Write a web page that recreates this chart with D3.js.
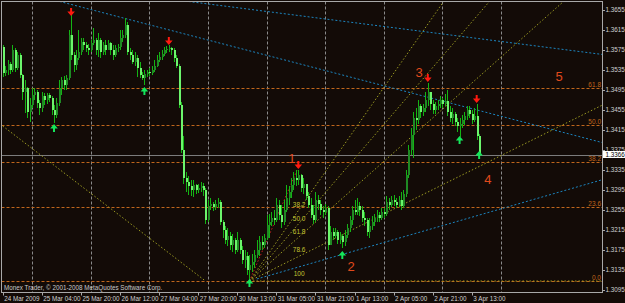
<!DOCTYPE html>
<html>
<head>
<meta charset="utf-8">
<script src="https://cdnjs.cloudflare.com/ajax/libs/d3/7.8.5/d3.min.js"></script>
<style>
html, body { margin: 0; padding: 0; background: #130b07; overflow: hidden; }
svg { display: block; }
text { font-family: "Liberation Sans", Arial, sans-serif; }
</style>
</head>
<body>
<div id="chart"></div>
<script>
// EURUSD-like H1 bars, prices in pips above 1.0000 (3529 -> 1.3529)
// open of each bar = close of the bar before
const firstOpen = 3581;
const closes = [3529,3535,3547,3535,3575,3539,3565,3525,3491,3499,
  3451,3465,3485,3491,3469,3459,3483,3475,3485,3479,
  3455,3445,3469,3499,3515,3505,3519,3605,3565,3545,
  3559,3571,3591,3585,3579,3575,3589,3595,3575,3595,
  3571,3585,3575,3589,3575,3565,3579,3581,3599,3605,
  3625,3571,3565,3551,3559,3539,3525,3519,3527,3531,
  3529,3535,3543,3555,3561,3567,3575,3577,3579,3575,
  3559,3543,3465,3375,3319,3311,3303,3295,3305,3295,
  3299,3303,3295,3235,3263,3267,3261,3267,3271,3231,
  3215,3195,3203,3185,3195,3175,3195,3175,3155,3163,
  3135,3145,3151,3165,3175,3191,3185,3199,3225,3231,
  3239,3235,3265,3245,3231,3255,3279,3291,3305,3319,
  3315,3325,3299,3307,3283,3265,3245,3235,3275,3267,
  3255,3251,3259,3185,3211,3203,3211,3195,3203,3191,
  3205,3219,3235,3255,3251,3263,3255,3239,3235,3211,
  3223,3231,3239,3245,3239,3251,3247,3271,3265,3275,
  3271,3265,3275,3263,3287,3325,3375,3405,3439,3435,
  3463,3451,3459,3475,3491,3467,3455,3463,3467,3475,
  3467,3473,3451,3439,3447,3431,3423,3427,3435,3443,
  3455,3447,3435,3443,3403,3366];
const highs = [3585,3543,3555,3551,3585,3579,3571,3569,3527,3515,
  3501,3479,3499,3499,3495,3475,3491,3489,3489,3489,
  3483,3465,3479,3515,3521,3523,3525,3615,3645,3571,
  3575,3615,3599,3599,3591,3587,3595,3619,3599,3609,
  3599,3591,3595,3595,3591,3585,3585,3587,3615,3615,
  3639,3631,3579,3575,3571,3565,3551,3531,3535,3535,
  3539,3543,3555,3565,3571,3575,3581,3583,3585,3581,
  3579,3565,3547,3471,3403,3331,3323,3315,3315,3307,
  3307,3311,3309,3299,3275,3279,3271,3275,3279,3275,
  3235,3223,3219,3211,3207,3199,3211,3199,3183,3175,
  3171,3165,3167,3175,3195,3203,3203,3207,3245,3247,
  3251,3255,3279,3275,3265,3275,3305,3303,3319,3331,
  3335,3335,3327,3319,3307,3291,3279,3265,3291,3285,
  3275,3263,3267,3263,3223,3219,3219,3215,3211,3207,
  3215,3227,3243,3263,3275,3279,3271,3263,3251,3239,
  3239,3243,3247,3255,3251,3259,3259,3283,3279,3283,
  3285,3279,3283,3291,3295,3335,3385,3419,3451,3459,
  3475,3467,3467,3491,3509,3487,3475,3471,3475,3483,
  3479,3487,3495,3463,3459,3451,3439,3439,3445,3451,
  3463,3463,3455,3459,3467,3407];
const lows = [3521,3523,3525,3527,3531,3531,3535,3519,3475,3449,
  3439,3431,3459,3475,3459,3445,3451,3465,3467,3471,
  3445,3429,3439,3463,3485,3495,3495,3515,3555,3531,
  3535,3555,3565,3575,3571,3565,3571,3585,3565,3561,
  3559,3565,3565,3575,3565,3555,3561,3571,3575,3591,
  3599,3565,3555,3547,3543,3521,3519,3515,3505,3521,
  3523,3525,3531,3541,3551,3555,3563,3569,3571,3565,
  3551,3539,3459,3369,3307,3291,3285,3283,3281,3287,
  3289,3291,3283,3227,3231,3255,3253,3255,3259,3225,
  3199,3187,3183,3175,3171,3167,3171,3167,3147,3139,
  3125,3113,3131,3139,3159,3163,3175,3179,3195,3199,
  3223,3225,3231,3235,3219,3225,3251,3265,3279,3295,
  3303,3305,3291,3287,3275,3259,3239,3227,3231,3255,
  3245,3239,3245,3175,3191,3195,3199,3187,3187,3179,
  3183,3199,3211,3225,3245,3245,3243,3231,3223,3203,
  3199,3215,3223,3231,3231,3235,3239,3243,3255,3261,
  3263,3259,3261,3255,3259,3281,3319,3365,3359,3415,
  3427,3439,3443,3451,3463,3455,3447,3447,3455,3459,
  3459,3463,3443,3431,3427,3423,3411,3401,3419,3425,
  3435,3439,3427,3431,3395,3361];

// fractal arrows: [bar, pips]
const fractalsHigh = [[28, 3651], [68, 3593], [121, 3345], [174, 3519], [194, 3477]];
const fractalsLow = [[21, 3419], [58, 3493], [101, 3109], [139, 3165], [187, 3395], [195, 3365]];

// axes
const priceTicks = [1.3655, 1.3615, 1.3575, 1.3535, 1.3495, 1.3455, 1.3415, 1.3375,
  1.3335, 1.3295, 1.3255, 1.3215, 1.3175, 1.3135, 1.3095];
const timeBars = [0, 16, 32, 48, 64, 80, 96, 112, 128, 144, 160, 176, 192];
const timeLabels = ["24 Mar 2009", "25 Mar 04:00", "25 Mar 20:00", "26 Mar 12:00", "27 Mar 04:00",
  "27 Mar 20:00", "30 Mar 13:00", "31 Mar 05:00", "31 Mar 21:00", "1 Apr 13:00",
  "2 Apr 05:00", "2 Apr 21:00", "3 Apr 13:00"];
const gridBars = [12, 36, 60, 84, 108, 132, 156, 180, 204];
const lastPrice = 1.3366;

// objects drawn on the chart, points are [bar, pips]
const blueLines = [
  [[81, 3669], [244, 3567]],
  [[22.6, 3673], [244.5, 3391]]
];
const blueRay = [[104, 3117], [245, 3315]];
const yellowSegment = [[0, 3423], [83, 3113]];
const fanFrom = [101, 3113], fanTo = [120.5, 3335];
const fanLevels = [38.2, 50, 61.8, 78.6, 100];
const fanLabels = ["38.2", "50.0", "61.8", "78.6", "100"];
const fiboLow = 3113, fiboHigh = 3736;
const fiboLevels = [0, 23.6, 38.2, 50, 61.8];
const fiboLabels = ["0.0", "23.6", "38.2", "50.0", "61.8"];
const waveLabels = ["1", "2", "3", "4", "5"];
const waveBars = [118.4, 142.6, 170.4, 198.6, 227.7];
const wavePips = [3359, 3143, 3531, 3317, 3523];

const width = 625, height = 303;
const plot = {left: 1.5, right: 602.5, top: 1.5, bottom: 292.5};

const px = v => 1 + v / 10000;
const x = d3.scaleLinear().domain([0, 192]).range([2.7, 471.8]);
const y = d3.scaleLinear().domain([1.3095, 1.3655]).range([290, 10]);

const svg = d3.select("#chart").append("svg")
    .attr("width", width)
    .attr("height", height);

svg.append("rect")
    .attr("width", width).attr("height", height)
    .attr("fill", "#130b07");

svg.append("clipPath").attr("id", "clip")
    .append("rect")
    .attr("x", plot.left).attr("y", plot.top)
    .attr("width", plot.right - plot.left)
    .attr("height", plot.bottom - plot.top);

const g = svg.append("g").attr("clip-path", "url(#clip)");

// vertical grid at midnights
g.selectAll(".grid")
    .data(gridBars)
    .enter().append("line")
    .attr("x1", d => Math.round(x(d)) + 0.5)
    .attr("x2", d => Math.round(x(d)) + 0.5)
    .attr("y1", plot.top).attr("y2", plot.bottom)
    .attr("stroke", "#8a8a8a")
    .attr("stroke-dasharray", "3,2");

// fibo retracement levels
g.selectAll(".fibo")
    .data(fiboLevels)
    .enter().append("line")
    .attr("x1", plot.left).attr("x2", plot.right)
    .attr("y1", d => Math.round(y(px(fiboLow + d / 100 * (fiboHigh - fiboLow)))) + 0.5)
    .attr("y2", d => Math.round(y(px(fiboLow + d / 100 * (fiboHigh - fiboLow)))) + 0.5)
    .attr("stroke", "#c0661c")
    .attr("stroke-dasharray", "3,2");

g.selectAll(".fiboText")
    .data(fiboLevels)
    .enter().append("text")
    .attr("x", 601)
    .attr("y", d => y(px(fiboLow + d / 100 * (fiboHigh - fiboLow))) - 1.5)
    .attr("text-anchor", "end")
    .attr("font-size", "6.5px")
    .attr("fill", "#c0661c")
    .text((d, i) => fiboLabels[i]);

// last price line
g.append("line")
    .attr("x1", plot.left).attr("x2", plot.right)
    .attr("y1", Math.round(y(lastPrice)) + 0.5)
    .attr("y2", Math.round(y(lastPrice)) + 0.5)
    .attr("stroke", "#7c7c7c");

// helper: point of a line through p1,p2 at a given bar
function at(p1, p2, bar) {
    const k = (p2[1] - p1[1]) / (p2[0] - p1[0]);
    return [bar, p1[1] + k * (bar - p1[0])];
}

function drawLine(p1, p2, color, dash) {
    g.append("line")
        .attr("x1", x(p1[0])).attr("y1", y(px(p1[1])))
        .attr("x2", x(p2[0])).attr("y2", y(px(p2[1])))
        .attr("stroke", color)
        .attr("stroke-dasharray", dash);
}

// trend lines
blueLines.forEach(l => drawLine(at(l[0], l[1], -10), at(l[0], l[1], 260), "#1d86c0", "2,2"));
drawLine(blueRay[0], at(blueRay[0], blueRay[1], 260), "#1d86c0", "2,2");
drawLine(yellowSegment[0], yellowSegment[1], "#9a9a22", "1.5,2");

// fibo fan
fanLevels.forEach(lv => {
    const p = [fanTo[0], fanTo[1] - lv / 100 * (fanTo[1] - fanFrom[1])];
    drawLine(fanFrom, at(fanFrom, p, 260), "#9a9a22", "1.5,2");
});
drawLine(fanFrom, fanTo, "#c42020", "1.5,2");

g.selectAll(".fanText")
    .data(fanLevels)
    .enter().append("text")
    .attr("x", x(fanTo[0]) + 2)
    .attr("y", d => y(px(fanTo[1] - d / 100 * (fanTo[1] - fanFrom[1]))) - 5)
    .attr("text-anchor", "middle")
    .attr("font-size", "6.5px")
    .attr("fill", "#c4c432")
    .text((d, i) => fanLabels[i]);

// candles
const bars = closes.map((c, i) => ({
    i: i,
    o: i ? closes[i - 1] : firstOpen,
    h: highs[i],
    l: lows[i],
    c: c
}));

g.selectAll(".wick")
    .data(bars)
    .enter().append("line")
    .attr("x1", d => Math.round(x(d.i)) + 0.5)
    .attr("x2", d => Math.round(x(d.i)) + 0.5)
    .attr("y1", d => y(px(d.h)))
    .attr("y2", d => y(px(d.l)))
    .attr("stroke", "#14b414");

g.selectAll(".body")
    .data(bars)
    .enter().append("rect")
    .attr("x", d => Math.round(x(d.i)))
    .attr("width", 2)
    .attr("y", d => y(px(Math.max(d.o, d.c))))
    .attr("height", d => Math.max(1, Math.abs(y(px(d.o)) - y(px(d.c)))))
    .attr("fill", d => d.c > d.o ? "#1f8a24" : "#6cf56c");

// fractal arrows
g.selectAll(".up")
    .data(fractalsHigh)
    .enter().append("path")
    .attr("d", d => {
        const cx = x(d[0]), cy = y(px(d[1]));
        return `M${cx - 1},${cy - 4}h2v3.5h2.8l-3.8,4.5l-3.8,-4.5h2.8z`;
    })
    .attr("fill", "#ff1a10");

g.selectAll(".down")
    .data(fractalsLow)
    .enter().append("path")
    .attr("d", d => {
        const cx = x(d[0]), cy = y(px(d[1]));
        return `M${cx - 1},${cy + 4}h2v-3.5h2.8l-3.8,-4.5l-3.8,4.5h2.8z`;
    })
    .attr("fill", "#14e65a");

// wave numbers
g.selectAll(".wave")
    .data(waveLabels)
    .enter().append("text")
    .attr("x", (d, i) => x(waveBars[i]))
    .attr("y", (d, i) => y(px(wavePips[i])))
    .attr("dy", "0.36em")
    .attr("text-anchor", "middle")
    .attr("font-size", "13px")
    .attr("fill", "#e04a1c")
    .text(d => d);

g.append("text")
    .attr("x", 4).attr("y", 289.5)
    .attr("font-size", "6.3px")
    .attr("fill", "#c8c8c8")
    .text("Monex Trader, \u00a9 2001-2008 MetaQuotes Software Corp.");

// frame
svg.append("rect")
    .attr("x", plot.left).attr("y", plot.top)
    .attr("width", plot.right - plot.left)
    .attr("height", plot.bottom - plot.top)
    .attr("fill", "none")
    .attr("stroke", "#a8a8a8");

// price axis
svg.selectAll(".ptick")
    .data(priceTicks)
    .enter().append("line")
    .attr("x1", plot.right).attr("x2", plot.right + 2.5)
    .attr("y1", d => Math.round(y(d)) + 0.5)
    .attr("y2", d => Math.round(y(d)) + 0.5)
    .attr("stroke", "#a8a8a8");

svg.selectAll(".plabel")
    .data(priceTicks)
    .enter().append("text")
    .attr("x", 605.5)
    .attr("y", d => y(d) + 2.3)
    .attr("font-size", "6.3px")
    .attr("fill", "#d0d0d0")
    .text(d => d.toFixed(4));

svg.append("rect")
    .attr("x", 603).attr("y", y(lastPrice) - 3.5)
    .attr("width", 22).attr("height", 7)
    .attr("fill", "#ffffff");
svg.append("text")
    .attr("x", 605.5).attr("y", y(lastPrice) + 2.3)
    .attr("font-size", "6.3px")
    .attr("fill", "#000000")
    .text(lastPrice.toFixed(4));

// time axis
svg.selectAll(".ttick")
    .data(timeBars)
    .enter().append("line")
    .attr("x1", d => Math.round(x(d)) + 0.5)
    .attr("x2", d => Math.round(x(d)) + 0.5)
    .attr("y1", plot.bottom).attr("y2", plot.bottom + 3)
    .attr("stroke", "#a8a8a8");

svg.selectAll(".tlabel")
    .data(timeBars)
    .enter().append("text")
    .attr("x", d => x(d) + 1.5)
    .attr("y", 300.5)
    .attr("font-size", "6.3px")
    .attr("fill", "#d0d0d0")
    .text((d, i) => timeLabels[i]);
</script>
</body>
</html>
